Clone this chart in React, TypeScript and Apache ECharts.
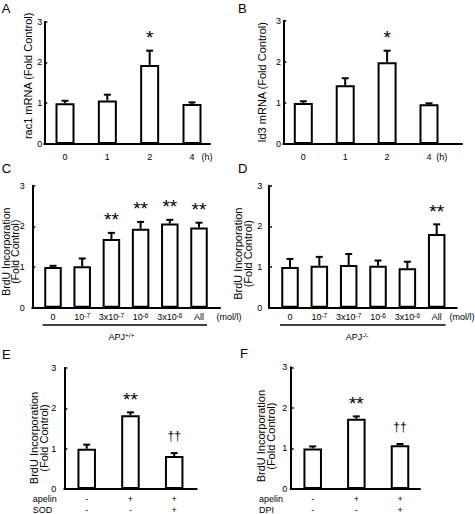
import React, { useEffect, useRef } from 'react';
import * as echarts from 'echarts';

const FONT = '"Liberation Sans", Arial, Helvetica, sans-serif';

// ---------------- Data ----------------
// A: rac1 mRNA time course
const timeCategories = ['0', '1', '2', '4'];
const rac1Means = [1.0, 1.07, 1.94, 0.98];
const rac1Sem = [0.06, 0.14, 0.35, 0.04];
const rac1Marks = ['', '', '*', ''];

// B: Id3 mRNA time course
const id3Means = [1.0, 1.43, 1.99, 0.97];
const id3Sem = [0.04, 0.17, 0.28, 0.02];
const id3Marks = ['', '', '*', ''];

// C / D: BrdU incorporation vs apelin dose
const doseCategories = ['0', '10^-7', '3x10^-7', '10^-6', '3x10^-6', 'All'];
const wtMeans = [1.0, 1.02, 1.69, 1.94, 2.07, 1.97];
const wtSem = [0.03, 0.19, 0.15, 0.17, 0.09, 0.12];
const wtMarks = ['', '', '**', '**', '**', '**'];

const koMeans = [1.0, 1.03, 1.05, 1.03, 0.97, 1.81];
const koSem = [0.2, 0.22, 0.27, 0.13, 0.16, 0.24];
const koMarks = ['', '', '', '', '', '**'];

// E / F: apelin with SOD or DPI
const apelinRow = ['-', '+', '+'];
const sodRow = ['-', '-', '+'];
const dpiRow = ['-', '-', '+'];

const sodMeans = [1.0, 1.83, 0.82];
const sodSem = [0.1, 0.07, 0.07];
const sodMarks = ['', '**', '††'];

const dpiMeans = [1.0, 1.73, 1.08];
const dpiSem = [0.05, 0.06, 0.03];
const dpiMarks = ['', '**', '††'];

const yMax = 3;
const yInterval = 1;

// ---------------- Layout ----------------
type Layout = {
  axisX: number; y3: number; y0: number; xEnd: number;
  first: number; last: number; barW: number;
  yLabelMargin: number; xLabelMargin: number; nameGap: number; namePad: number[];
  xLineHeight: number; nameSize: number; nameLH: number;
};

const LA: Layout = { axisX: 44.3, y3: 21.7, y0: 144, xEnd: 210, first: 65, last: 192, barW: 19, yLabelMargin: 2, xLabelMargin: 7, nameGap: 11.3, namePad: [0, 0, 0, 14], xLineHeight: 11, nameSize: 11, nameLH: 10.2 };
const LB: Layout = { axisX: 283.3, y3: 20.7, y0: 144, xEnd: 462, first: 303.3, last: 429, barW: 19, yLabelMargin: 2.3, xLabelMargin: 7, nameGap: 16.6, namePad: [0, 0, 0, 0], xLineHeight: 11, nameSize: 11, nameLH: 10.2 };
const LC: Layout = { axisX: 32.3, y3: 185.7, y0: 307.7, xEnd: 220, first: 53, last: 199, barW: 17.5, yLabelMargin: 7.5, xLabelMargin: 4, nameGap: 12, namePad: [0, 10, 0, 0], xLineHeight: 11, nameSize: 10.5, nameLH: 9.8 };
const LD: Layout = { axisX: 269, y3: 185.7, y0: 307.7, xEnd: 456.7, first: 290, last: 436.7, barW: 17.5, yLabelMargin: 6.7, xLabelMargin: 4, nameGap: 16, namePad: [0, 14, 0, 0], xLineHeight: 11, nameSize: 11, nameLH: 10.2 };
const LE: Layout = { axisX: 64.3, y3: 368, y0: 489, xEnd: 196.7, first: 86.7, last: 174.2, barW: 18.5, yLabelMargin: 8, xLabelMargin: 4, nameGap: 14.8, namePad: [0, 19, 0, 0], xLineHeight: 11.5, nameSize: 11, nameLH: 10.2 };
const LF: Layout = { axisX: 290.7, y3: 367.3, y0: 489, xEnd: 420, first: 312.7, last: 400, barW: 18.5, yLabelMargin: 3.4, xLabelMargin: 4, nameGap: 14.7, namePad: [0, 16, 0, 0], xLineHeight: 11.5, nameSize: 11, nameLH: 10.2 };

const supFormatter = (v: string) => v.replace(/\^(\S+)/, '{s|$1}');

function buildOption() {
  const grid: any[] = [];
  const xAxis: any[] = [];
  const yAxis: any[] = [];
  const series: any[] = [];

  const addPanel = (
    k: number, L: Layout, cats: string[], means: number[], sem: number[], marks: string[],
    yName: string, formatter: (v: string) => string
  ) => {
    const gF = 2 * k;
    const gB = 2 * k + 1;
    const n = cats.length;
    const cw = (L.last - L.first) / (n - 1);
    const h = L.y0 - L.y3;
    grid.push({ left: L.axisX, top: L.y3, width: L.xEnd - L.axisX, height: h, containLabel: false, outerBoundsMode: 'none' });
    grid.push({ left: L.first - cw / 2, top: L.y3, width: cw * n, height: h, containLabel: false, outerBoundsMode: 'none' });

    // frame axes
    xAxis.push({
      type: 'value', gridIndex: gF, min: 0, max: 1,
      axisLine: { show: true, onZero: false, lineStyle: { color: '#000', width: 2 } },
      axisTick: { show: false }, axisLabel: { show: false }, splitLine: { show: false },
    });
    yAxis.push({
      type: 'value', gridIndex: gF, min: 0, max: yMax, interval: yInterval,
      axisLine: { show: true, lineStyle: { color: '#000', width: 2 } },
      axisTick: { show: true, inside: true, length: 3, lineStyle: { color: '#000', width: 1.5 } },
      axisLabel: { color: '#000', fontSize: 9, fontFamily: FONT, margin: L.yLabelMargin },
      splitLine: { show: false },
      name: yName, nameLocation: 'middle', nameGap: L.nameGap, nameMoveOverlap: false,
      nameTextStyle: { color: '#000', fontSize: L.nameSize, fontFamily: FONT, lineHeight: L.nameLH, padding: L.namePad },
    });
    // bar axes
    xAxis.push({
      type: 'category', gridIndex: gB, data: cats,
      axisLine: { show: false }, axisTick: { show: false }, splitLine: { show: false },
      axisLabel: {
        color: '#000', fontSize: 9, fontFamily: FONT, margin: L.xLabelMargin, interval: 0,
        lineHeight: L.xLineHeight, formatter,
        rich: { s: { fontSize: 6.5, fontFamily: FONT, color: '#000', verticalAlign: 'top', lineHeight: L.xLineHeight } },
      },
    });
    yAxis.push({ type: 'value', gridIndex: gB, min: 0, max: yMax, show: false, splitLine: { show: false } });

    series.push({
      type: 'bar', xAxisIndex: gB, yAxisIndex: gB, data: means, barWidth: L.barW,
      itemStyle: { color: '#fff', borderColor: '#000', borderWidth: 2 }, silent: true,
    });
    series.push({
      type: 'custom', xAxisIndex: gB, yAxisIndex: gB, silent: true, z: 5, clip: false,
      data: means.map((m, i) => [i, m, m + sem[i]]),
      renderItem: (params: any, api: any) => {
        const i = api.value(0);
        const top = api.coord([i, api.value(1)]);
        const err = api.coord([i, api.value(2)]);
        const capW = 7;
        const mark = marks[params.dataIndex];
        const children: any[] = [
          { type: 'line', shape: { x1: top[0], y1: top[1], x2: err[0], y2: err[1] }, style: { stroke: '#000', lineWidth: 2 } },
          { type: 'line', shape: { x1: err[0] - capW / 2, y1: err[1], x2: err[0] + capW / 2, y2: err[1] }, style: { stroke: '#000', lineWidth: 2 } },
        ];
        if (mark) {
          const star = mark.indexOf('*') >= 0;
          children.push({
            type: 'text', x: err[0], y: err[1] - (star ? 13 : 17),
            style: {
              text: mark, fill: '#000', fontSize: star ? 19 : 12, fontFamily: FONT,
              align: 'center', verticalAlign: 'middle', textAlign: 'center', textVerticalAlign: 'middle',
            },
          });
        }
        return { type: 'group', children };
      },
    });
  };

  const plain = (v: string) => v;
  const rows = (a: string[], b: string[]) => (v: string) => {
    const i = Number(v);
    return `${a[i]}\n${b[i]}`;
  };
  const idx3 = ['0', '1', '2'];

  addPanel(0, LA, timeCategories, rac1Means, rac1Sem, rac1Marks, 'rac1 mRNA (Fold Control)', plain);
  addPanel(1, LB, timeCategories, id3Means, id3Sem, id3Marks, 'Id3 mRNA (Fold Control)', plain);
  addPanel(2, LC, doseCategories, wtMeans, wtSem, wtMarks, 'BrdU Incorporation\n(Fold Control)', supFormatter);
  addPanel(3, LD, doseCategories, koMeans, koSem, koMarks, 'BrdU Incorporation\n(Fold Control)', supFormatter);
  addPanel(4, LE, idx3, sodMeans, sodSem, sodMarks, 'BrdU Incorporation\n(Fold Control)', rows(apelinRow, sodRow));
  addPanel(5, LF, idx3, dpiMeans, dpiSem, dpiMarks, 'BrdU Incorporation\n(Fold Control)', rows(apelinRow, dpiRow));

  const txt = (text: string, x: number, y: number, fontSize: number, align = 'left', rich?: any) => ({
    type: 'text', x, y, silent: true,
    style: {
      text, fill: '#000', fontSize, fontFamily: FONT,
      align, verticalAlign: 'middle', textAlign: align, textVerticalAlign: 'middle', rich,
    },
  });
  const line = (x1: number, y1: number, x2: number, y2: number) => ({
    type: 'line', silent: true, shape: { x1, y1, x2, y2 }, style: { stroke: '#000', lineWidth: 1.5 },
  });
  const supRich = { s: { fontSize: 6.5, fontFamily: FONT, fill: '#000', verticalAlign: 'top' } };

  const graphic = [
    txt('A', 1.7, 8.7, 13),
    txt('B', 238, 8.5, 13),
    txt('C', 1.7, 168, 13),
    txt('D', 238, 168, 13),
    txt('E', 2, 354, 13),
    txt('F', 240, 353.3, 13),
    txt('(h)', 207, 156.5, 9, 'center'),
    txt('(h)', 441.7, 156.5, 9, 'center'),
    txt('(mol/l)', 229, 317, 9, 'center'),
    txt('(mol/l)', 474.5, 317, 9, 'right'),
    line(42.7, 325, 207, 325),
    line(280, 325, 445.5, 325),
    txt('APJ{s|+/+}', 121.5, 336.5, 9, 'center', supRich),
    txt('APJ{s|-/-}', 357, 336.5, 9, 'center', supRich),
    txt('apelin', 32.7, 498.5, 9),
    txt('SOD', 32.7, 509.5, 9),
    txt('apelin', 259, 498.5, 9),
    txt('DPI', 259, 509.5, 9),
  ];

  return {
    animation: false,
    backgroundColor: '#fff',
    textStyle: { fontFamily: FONT },
    grid, xAxis, yAxis, series, graphic,
  };
}

export default function App() {
  const ref = useRef<HTMLDivElement>(null);
  useEffect(() => {
    if (!ref.current) return;
    const chart = echarts.init(ref.current, undefined, { renderer: 'svg' });
    chart.setOption(buildOption() as any);
    return () => chart.dispose();
  }, []);
  return <div ref={ref} style={{ position: 'fixed', left: 0, top: 0, width: 475, height: 514, background: '#fff' }} />;
}
